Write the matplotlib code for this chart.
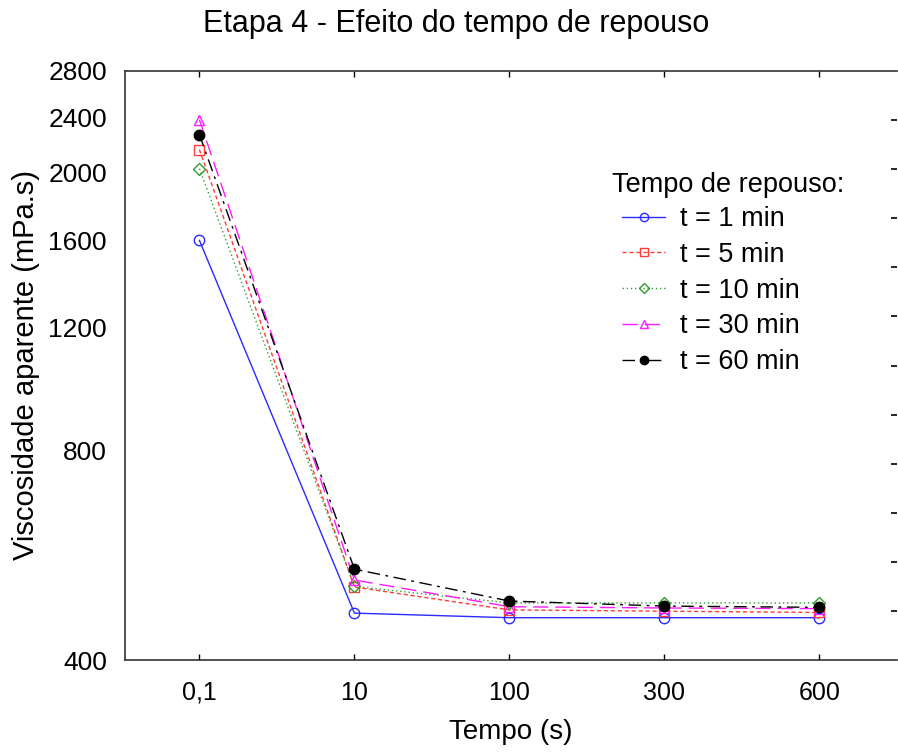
import numpy as np
import matplotlib.pyplot as plt
from matplotlib.ticker import FixedLocator, FixedFormatter, NullLocator

plt.rcParams['font.family'] = ['Liberation Sans', 'DejaVu Sans']

# tempos de medição (eixo x categórico)
tempos = ['0,1', '10', '100', '300', '600']

# viscosidade aparente (mPa.s) para cada tempo de repouso
t1 = [1600, 467, 460, 460, 460]
t5 = [2160, 509, 472, 470, 468]
t10 = [2028, 510, 483, 483, 483]
t30 = [2384, 521, 477, 475, 474]
t60 = [2270, 540, 486, 478, 476]

series = [
    ('t = 1 min', t1, '#2b2bff', '-', 'o', 'none'),
    ('t = 5 min', t5, '#ff3b3b', (0, (3, 2)), 's', 'none'),
    ('t = 10 min', t10, '#2e9e2e', (0, (1, 2)), 'D', 'none'),
    ('t = 30 min', t30, '#ff1aff', (0, (11, 5)), '^', 'none'),
    ('t = 60 min', t60, 'black', (0, (9, 4, 2, 4)), 'o', 'black'),
]

fig = plt.figure(figsize=(8.98, 7.55), dpi=100)
ax = fig.add_axes([125 / 898, 95 / 755, 772 / 898, 589 / 755])

x = np.arange(len(tempos))
for lab, vals, cor, ls, mk, face in series:
    ms = 6.5 if mk == 'D' else 7.5
    ax.plot(x, vals, color=cor, linestyle=ls, linewidth=1, marker=mk,
            markersize=ms, markerfacecolor=face, markeredgecolor=cor,
            markeredgewidth=1, label=lab)

ax.set_yscale('log')
ax.set_ylim(400, 2800)
yt = [400, 800, 1200, 1600, 2000, 2400, 2800]
ax.yaxis.set_major_locator(FixedLocator(yt))
ax.yaxis.set_major_formatter(FixedFormatter([str(v) for v in yt]))
ax.yaxis.set_minor_locator(NullLocator())
ax.set_xlim(-0.48, 4.5)
ax.set_xticks(x)
ax.set_xticklabels(tempos)

ax.tick_params(axis='y', which='both', length=0, pad=13, labelsize=19)
ax.tick_params(axis='x', direction='in', length=4, pad=15, labelsize=18,
               top=True, width=1)
ax.spines['right'].set_visible(False)
for s in ['left', 'bottom', 'top']:
    ax.spines[s].set_linewidth(1.2)
    ax.spines[s].set_color('#333333')

# marcas do lado direito
ax2 = ax.twinx()
ax2.set_ylim(0, 12)
ax2.set_yticks(np.arange(1, 12))
ax2.tick_params(axis='y', direction='in', length=4, labelright=False, width=1.2)
for s in ['right', 'top', 'left', 'bottom']:
    ax2.spines[s].set_visible(False)

ax.set_xlabel('Tempo (s)', fontsize=20, labelpad=10)
ax.set_ylabel('Viscosidade aparente (mPa.s)', fontsize=21, labelpad=6)
fig.text(456 / 898, 1 - 24 / 755, 'Etapa 4 - Efeito do tempo de repouso',
         fontsize=22, ha='center', va='center')

# legenda: título à parte, um pouco mais à esquerda que as entradas
fig.text(612 / 898, 1 - 185 / 755, 'Tempo de repouso:', fontsize=19.5,
         ha='left', va='center')
leg = ax.legend(loc='upper left', bbox_to_anchor=(622 / 898, 1 - 206 / 755),
                bbox_transform=fig.transFigure, frameon=False, fontsize=19.5,
                handlelength=1.6, handletextpad=0.55, labelspacing=0.36,
                markerscale=0.8, borderpad=0, borderaxespad=0)

fig.savefig('out.png', dpi=100)
